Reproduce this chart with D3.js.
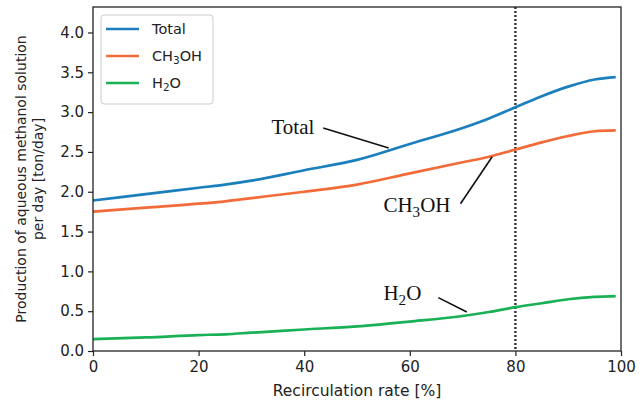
<!DOCTYPE html>
<html>
<head>
<meta charset="utf-8">
<script src="https://cdn.jsdelivr.net/npm/d3@7"></script>
<style>
  body { margin: 0; background: #fff; }
  text { font-family: "DejaVu Sans", sans-serif; }
</style>
</head>
<body>
<script>
// recirculation rate [%]
var rate = [0, 10, 20, 25, 30, 40, 50, 60, 70, 75, 80, 85, 90, 95, 99];
// production [ton/day]
var total = [1.89, 1.97, 2.05, 2.09, 2.14, 2.27, 2.40, 2.60, 2.80, 2.92, 3.06, 3.20, 3.32, 3.41, 3.44];
var ch3oh = [1.75, 1.80, 1.85, 1.88, 1.92, 2.00, 2.09, 2.23, 2.37, 2.44, 2.53, 2.62, 2.70, 2.76, 2.77];
var h2o   = [0.15, 0.17, 0.20, 0.21, 0.23, 0.27, 0.31, 0.37, 0.44, 0.49, 0.55, 0.60, 0.65, 0.68, 0.69];

var xTicks = [0, 20, 40, 60, 80, 100];
var yTicks = [0, 0.5, 1, 1.5, 2, 2.5, 3, 3.5, 4];
var markerRate = 80;

var series = [
  {name: ["CH", "3", "OH"], values: ch3oh, color: "#f26b38"},
  {name: ["H", "2", "O"], values: h2o, color: "#19b056"},
  {name: ["Total"], values: total, color: "#1b7fbd"}
];
var legendOrder = [2, 0, 1];

// annotations: text position and leader line, in data units
var notes = [
  {name: ["Total"], tx: 33.8, ty: 2.73, x1: 43.6, y1: 2.80, x2: 56.0, y2: 2.55},
  {name: ["CH", "3", "OH"], tx: 55.0, ty: 1.75, x1: 69.6, y1: 1.85, x2: 75.6, y2: 2.44},
  {name: ["H", "2", "O"], tx: 55.0, ty: 0.64, x1: 65.4, y1: 0.67, x2: 70.8, y2: 0.49}
];

var W = 644, H = 403;
var margin = {top: 7, right: 23, bottom: 52, left: 93};
var width = W - margin.left - margin.right,
    height = H - margin.top - margin.bottom;

var svg = d3.select("body").append("svg")
  .attr("width", W)
  .attr("height", H);

var g = svg.append("g")
  .attr("transform", "translate(" + margin.left + "," + margin.top + ")");

var x = d3.scaleLinear().domain([0, 100]).range([0, width]);
var y = d3.scaleLinear().domain([0, 4.32]).range([height, 0]);

// axes
var xAxis = d3.axisBottom(x).tickValues(xTicks).tickSize(5).tickPadding(5).tickFormat(d3.format("d"));
var yAxis = d3.axisLeft(y).tickValues(yTicks).tickSize(5).tickPadding(4).tickFormat(d3.format(".1f"));

var gx = g.append("g")
  .attr("transform", "translate(0," + height + ")")
  .call(xAxis);
var gy = g.append("g").call(yAxis);

[gx, gy].forEach(function(a) {
  a.select(".domain").remove();
  a.selectAll("line").attr("stroke", "#222").attr("stroke-width", 1.2);
  a.selectAll("text").style("font-size", "15px").attr("fill", "#222")
    .style("font-family", "'DejaVu Sans', sans-serif");
});

// marker line at 80 %
g.append("line")
  .attr("x1", x(markerRate)).attr("x2", x(markerRate))
  .attr("y1", 0).attr("y2", height)
  .attr("stroke", "#333")
  .attr("stroke-width", 2.4)
  .attr("stroke-dasharray", "2,2");

// lines
var line = d3.line()
  .x(function(d, i) { return x(rate[i]); })
  .y(function(d) { return y(d); })
  .curve(d3.curveMonotoneX);

g.selectAll(".series")
  .data(series)
  .enter().append("path")
  .attr("class", "series")
  .attr("fill", "none")
  .attr("stroke", function(d) { return d.color; })
  .attr("stroke-width", 2.7)
  .attr("d", function(d) { return line(d.values); });

// frame
g.append("rect")
  .attr("width", width).attr("height", height)
  .attr("fill", "none")
  .attr("stroke", "#222")
  .attr("stroke-width", 1.3);

function writeName(sel, parts, sub) {
  parts.forEach(function(p, i) {
    var t = sel.append("tspan").text(p);
    if (i == 1) t.attr("dy", sub).style("font-size", "0.72em");
    if (i == 2) t.attr("dy", -sub);
  });
}

// annotations
var ann = g.selectAll(".note").data(notes).enter().append("g").attr("class", "note");
ann.append("line")
  .attr("x1", function(d) { return x(d.x1); })
  .attr("y1", function(d) { return y(d.y1); })
  .attr("x2", function(d) { return x(d.x2); })
  .attr("y2", function(d) { return y(d.y2); })
  .attr("stroke", "#111")
  .attr("stroke-width", 1.6);
ann.append("text")
  .attr("x", function(d) { return x(d.tx); })
  .attr("y", function(d) { return y(d.ty); })
  .style("font-family", "'Liberation Serif', 'Times New Roman', serif")
  .style("font-size", "21px")
  .attr("fill", "#111")
  .each(function(d) { writeName(d3.select(this), d.name, 5); });

// legend
var lg = g.append("g").attr("transform", "translate(8,8)");
lg.append("rect")
  .attr("width", 112).attr("height", 89)
  .attr("rx", 3)
  .attr("fill", "#fff").attr("fill-opacity", 0.8)
  .attr("stroke", "#ccc");
var items = lg.selectAll(".item")
  .data(legendOrder.map(function(i) { return series[i]; }))
  .enter().append("g")
  .attr("class", "item")
  .attr("transform", function(d, i) { return "translate(0," + (14 + i * 27) + ")"; });
items.append("line")
  .attr("x1", 5).attr("x2", 38)
  .attr("stroke", function(d) { return d.color; })
  .attr("stroke-width", 2.7);
items.append("text")
  .attr("x", 51).attr("y", 5)
  .style("font-size", "14.5px")
  .attr("fill", "#222")
  .each(function(d) { writeName(d3.select(this), d.name, 3); });

// axis labels
svg.append("text")
  .attr("x", margin.left + width / 2)
  .attr("y", 396)
  .attr("text-anchor", "middle")
  .style("font-size", "15.5px")
  .attr("fill", "#222")
  .text("Recirculation rate [%]");

var yl = svg.append("text")
  .attr("transform", "translate(26," + (margin.top + height / 2) + ") rotate(-90)")
  .attr("text-anchor", "middle")
  .style("font-size", "14px")
  .attr("fill", "#222");
yl.append("tspan").attr("x", 0).attr("y", 0).text("Production of aqueous methanol solution");
yl.append("tspan").attr("x", 0).attr("y", 17).text("per day [ton/day]");
</script>
</body>
</html>
